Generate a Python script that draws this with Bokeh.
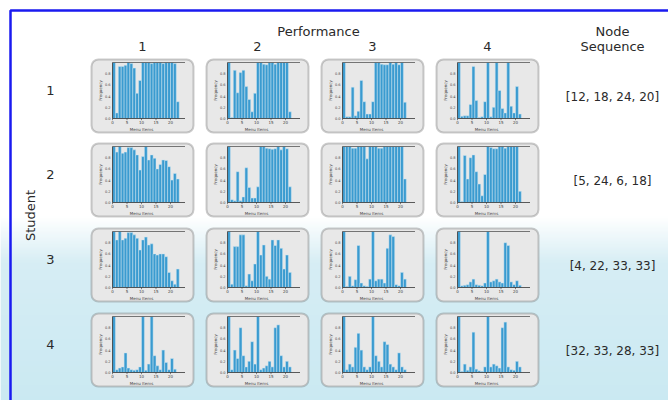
import numpy as np
from bokeh.plotting import figure
from bokeh.models import Range1d, BoxAnnotation
from bokeh.core.properties import value
from bokeh.embed import file_html
from bokeh.resources import INLINE

# ---------------- data ----------------
performance_labels = ["1", "2", "3", "4"]
student_labels = ["1", "2", "3", "4"]
node_sequences = ["[12, 18, 24, 20]", "[5, 24, 6, 18]", "[4, 22, 33, 33]", "[32, 33, 28, 33]"]
menu_ticks = [0, 5, 10, 15, 20]
freq_ticks = [0.0, 0.2, 0.4, 0.6, 0.8]

# frequency of each menu item, one list per (student, performance)
s1_p1 = [1.0, 0.1, 0.93, 0.93, 0.95, 1.0, 0.98, 0.9, 0.45, 0.68, 1.0, 1.0, 1.0, 0.98, 1.0, 1.0, 1.0, 0.98, 1.0, 1.0, 1.0, 0.98, 0.3]
s1_p2 = [1.0, 0.02, 0.86, 0.46, 0.82, 0.86, 0.57, 0.34, 0.12, 0.45, 1.0, 1.0, 0.97, 0.96, 1.0, 1.0, 0.97, 1.0, 1.0, 1.0, 1.0, 0.12]
s1_p3 = [1.0, 0.03, 0.03, 0.56, 0.05, 0.13, 0.68, 0.3, 0.08, 0.08, 0.3, 1.0, 1.0, 0.97, 0.96, 0.96, 1.0, 0.97, 1.0, 0.96, 1.0, 0.29]
s1_p4 = [1.0, 0.04, 0.05, 0.05, 0.25, 0.93, 0.32, 0.02, 0.03, 0.3, 1.0, 0.03, 0.2, 1.0, 0.5, 0.18, 0.1, 1.0, 0.22, 0.1, 0.57, 0.08]
s2_p1 = [1.0, 0.9, 1.0, 0.88, 0.9, 0.98, 0.98, 0.94, 0.85, 0.58, 0.82, 1.0, 0.76, 0.85, 0.79, 0.6, 0.68, 0.76, 0.75, 0.64, 0.4, 0.52, 0.42]
s2_p2 = [1.0, 0.05, 0.03, 0.55, 0.03, 0.1, 0.62, 0.27, 0.08, 0.08, 0.28, 1.0, 1.0, 0.97, 0.96, 0.95, 0.96, 1.0, 0.94, 1.0, 0.96, 0.28]
s2_p3 = [1.0, 1.0, 1.0, 0.97, 0.97, 1.0, 1.0, 1.0, 0.78, 1.0, 1.0, 1.0, 0.97, 0.97, 1.0, 1.0, 1.0, 1.0, 1.0, 1.0, 1.0, 0.42]
s2_p4 = [1.0, 0.02, 0.84, 0.42, 0.8, 0.85, 0.55, 0.33, 0.12, 0.5, 1.0, 0.98, 0.96, 0.96, 1.0, 1.0, 0.97, 1.0, 1.0, 1.0, 1.0, 0.2]
s3_p1 = [1.0, 0.85, 1.0, 0.85, 0.88, 0.98, 0.98, 0.94, 0.88, 0.67, 0.85, 0.9, 0.76, 0.78, 0.6, 0.58, 0.6, 0.6, 0.55, 0.27, 0.12, 0.06, 0.33]
s3_p2 = [1.0, 0.06, 0.73, 0.73, 0.94, 0.94, 0.03, 0.24, 0.12, 0.42, 1.0, 0.58, 0.76, 0.2, 0.15, 0.85, 0.75, 0.85, 0.7, 0.33, 0.58, 0.27]
s3_p3 = [1.0, 0.02, 0.2, 0.03, 0.14, 0.75, 0.08, 0.03, 0.02, 0.15, 1.0, 0.12, 0.15, 0.15, 0.08, 0.7, 0.94, 0.91, 0.05, 0.03, 0.27, 0.15]
s3_p4 = [1.0, 0.03, 0.04, 0.05, 0.1, 0.15, 0.05, 0.04, 0.03, 0.08, 1.0, 0.1, 0.12, 0.15, 0.1, 0.08, 0.8, 0.75, 0.1, 0.05, 0.12, 0.04]
s4_p1 = [1.0, 0.05, 0.08, 0.1, 0.35, 0.08, 0.05, 0.04, 0.05, 0.1, 1.0, 0.04, 0.15, 1.0, 0.3, 0.12, 0.05, 0.4, 0.18, 0.05, 0.25, 0.06]
s4_p2 = [1.0, 0.05, 0.4, 0.25, 0.8, 0.3, 0.1, 0.2, 0.55, 0.15, 1.0, 0.05, 0.08, 0.12, 0.2, 0.1, 0.8, 0.85, 0.3, 0.1, 0.2, 0.1]
s4_p3 = [1.0, 0.05, 0.15, 0.1, 0.45, 0.7, 0.4, 0.1, 0.05, 0.1, 1.0, 0.3, 0.2, 0.1, 0.55, 0.5, 0.15, 0.1, 0.05, 0.35, 0.1, 0.05]
s4_p4 = [1.0, 0.02, 0.15, 0.04, 0.1, 0.72, 0.06, 0.03, 0.02, 0.1, 1.0, 0.1, 0.15, 0.12, 0.08, 0.8, 0.9, 0.1, 0.05, 0.04, 0.2, 0.1]

frequencies = [
    [s1_p1, s1_p2, s1_p3, s1_p4],
    [s2_p1, s2_p2, s2_p3, s2_p4],
    [s3_p1, s3_p2, s3_p3, s3_p4],
    [s4_p1, s4_p2, s4_p3, s4_p4],
]

# ---------------- layout (page pixels) ----------------
W, H = 668, 400
col_left = [91, 206, 321, 436]
row_top = [59, 143, 228, 313]
box_w, box_h = 102, 73
inner_dx, inner_dy = 21, 59        # origin of each small chart inside its box
px_per_item, px_per_freq = 2.9, 56
x_extent = 25

FONT = value("DejaVu Sans")
TEXT_COLOR = "#2a2a2a"

p = figure(width=W, height=H, x_range=Range1d(0, W), y_range=Range1d(H, 0),
           x_axis_location=None, y_axis_location=None, toolbar_location=None,
           output_backend="svg", min_border=0)
p.grid.visible = False
p.outline_line_color = None
p.background_fill_color = "white"
p.border_fill_color = "white"

# one pair of ranges per column / row so every small chart has its own scale
xr, yr = {}, {}
for c in range(4):
    x0 = col_left[c] + inner_dx
    xr[f"perf{c}"] = Range1d(-x0 / px_per_item, (W - x0) / px_per_item)
for r in range(4):
    y0 = row_top[r] + inner_dy
    yr[f"stud{r}"] = Range1d(-(H - y0) / px_per_freq, y0 / px_per_freq)
p.extra_x_ranges = xr
p.extra_y_ranges = yr

# soft cyan wash in the lower part of the page
band_y = np.arange(200, H + 2, 2)
stops_y = [200, 215, 262, 400]
stops_rgb = np.array([[255, 255, 255], [255, 255, 255], [214, 237, 244], [202, 233, 242]])
band_colors = []
for y in band_y:
    rgb = [int(round(np.interp(y, stops_y, stops_rgb[:, k]))) for k in range(3)]
    band_colors.append("#%02x%02x%02x" % tuple(rgb))
p.quad(left=0, right=W, top=band_y, bottom=band_y + 3, fill_color=band_colors,
       line_color=None, level="image")

# frame
p.line(x=[10, 10, W + 20], y=[H + 20, 10, 10], line_color="#1a1af0", line_width=2.5)

# headers
p.text(x=[318], y=[31], text=["Performance"], text_font=FONT, text_font_size="13px",
       text_color=TEXT_COLOR, text_align="center", text_baseline="middle")
p.text(x=[l + box_w / 2 for l in col_left], y=[46] * 4, text=performance_labels,
       text_font=FONT, text_font_size="13px", text_color=TEXT_COLOR,
       text_align="center", text_baseline="middle")
p.text(x=[612, 612], y=[31, 46], text=["Node", "Sequence"], text_font=FONT,
       text_font_size="13px", text_color=TEXT_COLOR, text_align="center",
       text_baseline="middle")
p.text(x=[50] * 4, y=[t + 31 for t in row_top], text=student_labels, text_font=FONT,
       text_font_size="13px", text_color=TEXT_COLOR, text_align="center",
       text_baseline="middle")
p.text(x=[612] * 4, y=[t + 37 for t in row_top], text=node_sequences, text_font=FONT,
       text_font_size="12px", text_color=TEXT_COLOR, text_align="center",
       text_baseline="middle")
p.text(x=[30], y=[215], text=["Student"], angle=np.pi / 2, text_font=FONT,
       text_font_size="13px", text_color=TEXT_COLOR, text_align="center",
       text_baseline="middle")

SMALL = dict(text_font=FONT, text_color="#444444")

for r in range(4):
    for c in range(4):
        # rounded panel behind each histogram
        p.add_layout(BoxAnnotation(left=col_left[c], right=col_left[c] + box_w,
                                   top=row_top[r], bottom=row_top[r] + box_h,
                                   fill_color="#e8e8e8", fill_alpha=1.0,
                                   line_color="#555555", line_width=2,
                                   border_radius=7, level="underlay"))
        rng = dict(x_range_name=f"perf{c}", y_range_name=f"stud{r}")
        vals = np.array(frequencies[r][c])
        items = np.arange(len(vals))
        p.quad(left=items, right=items + 1, bottom=0, top=vals,
               fill_color="#3a9bd0", line_color="#cde5f1", line_width=0.5, **rng)
        # axes of the small chart
        p.line(x=[0, x_extent], y=[0, 0], line_color="#333333", line_width=0.8, **rng)
        p.line(x=[0, 0], y=[0, 1.0], line_color="#333333", line_width=0.8, **rng)
        p.line(x=[0, x_extent], y=[1.0, 1.0], line_color="#555555", line_width=0.8, **rng)
        p.segment(x0=menu_ticks, y0=[0] * 5, x1=menu_ticks, y1=[-0.03] * 5,
                  line_color="#333333", line_width=0.6, **rng)
        p.text(x=menu_ticks, y=[0] * 5, text=[str(t) for t in menu_ticks], y_offset=2,
               text_font_size="4px", text_align="center", text_baseline="top",
               **SMALL, **rng)
        p.text(x=[0] * 5, y=freq_ticks, text=["%.1f" % t for t in freq_ticks], x_offset=-2,
               text_font_size="3.5px", text_align="right", text_baseline="middle",
               **SMALL, **rng)
        p.text(x=[0], y=[0.5], text=["Frequency"], angle=np.pi / 2, x_offset=-12,
               text_font_size="4px", text_align="center", text_baseline="middle",
               **SMALL, **rng)
        p.text(x=[10], y=[0], text=["Menu Items"], y_offset=8,
               text_font_size="4px", text_align="center", text_baseline="top",
               **SMALL, **rng)

open("out.html", "w").write(file_html(p, INLINE))
